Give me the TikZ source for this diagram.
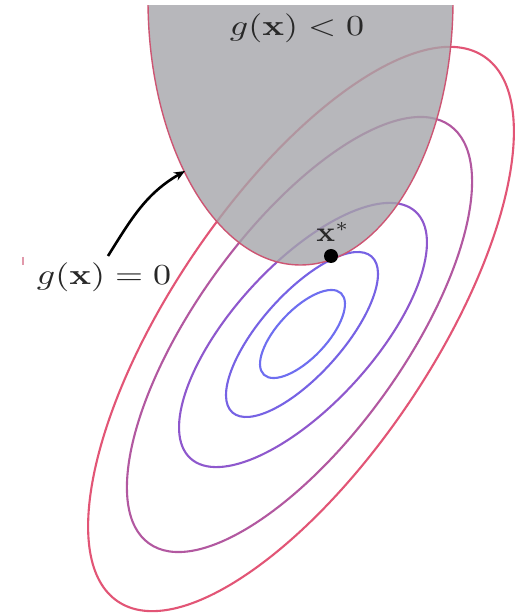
\documentclass[tikz,border=0pt]{standalone}
\usetikzlibrary{arrows.meta}
\definecolor{cA}{RGB}{110,110,240}
\definecolor{cB}{RGB}{118,98,228}
\definecolor{cC}{RGB}{142,88,205}
\definecolor{cD}{RGB}{178,88,160}
\definecolor{cE}{RGB}{226,85,118}
\definecolor{regfill}{RGB}{165,165,170}
\definecolor{regedge}{RGB}{205,85,115}
\definecolor{txt}{RGB}{40,40,40}
\tikzset{
  contour/.style={line width=2.1pt},
  lbl/.style={inner sep=0pt, text=txt},
}
\begin{document}
\begin{tikzpicture}[x=1pt,y=1pt]
\useasboundingbox (0,0) rectangle (524,614);
\fill[white] (0,0) rectangle (524,614);
% contours
\draw[contour,cA,rotate around={46.5:(302.5,280)}] (302.5,280) ellipse [x radius=56.1pt, y radius=24.4pt];
\draw[contour,cB,rotate around={48.2:(302,279.5)}] (302,279.5) ellipse [x radius=104.5pt, y radius=40.7pt];
\draw[contour,cC,rotate around={47.6:(303,279)}] (303,279) ellipse [x radius=167pt, y radius=70.1pt];
\draw[contour,cD,rotate around={54.2:(299.5,279.5)}] (299.5,279.5) ellipse [x radius=257.5pt, y radius=103.8pt];
\draw[contour,cE,rotate around={56.1:(301,285)}] (301,285) ellipse [x radius=328.3pt, y radius=130.8pt];
% feasible region g(x)<0
\begin{scope}
\clip (0,0) rectangle (524,608);
\fill[regfill,fill opacity=0.8] (300.5,614) ellipse [x radius=152.5pt, y radius=265pt];
\draw[regedge,line width=1.4pt] (300.5,614) ellipse [x radius=152.5pt, y radius=265pt];
\end{scope}
% optimum
\fill[black] (331,358) circle [radius=7pt];
\node[lbl] (xs) at (333,382) {\scalebox{3.1}[2.8]{$\mathbf{x}^*$}};
\node[lbl] (gneg) at (297,586) {\scalebox{3.6}[2.9]{$g(\mathbf{x}) < 0$}};
\node[lbl] (gzero) at (104,337) {\scalebox{3.6}[2.9]{$g(\mathbf{x}) = 0$}};
\coordinate (arrS) at (108,358);
\coordinate (arrE) at (185,443);
\draw[line width=2.6pt,-{Stealth[length=11pt,width=9pt]}] (arrS) to[out=58, in=210] (arrE);
\draw[regedge!60,line width=1.6pt] (23,357) -- (23,349);
\end{tikzpicture}
\end{document}
